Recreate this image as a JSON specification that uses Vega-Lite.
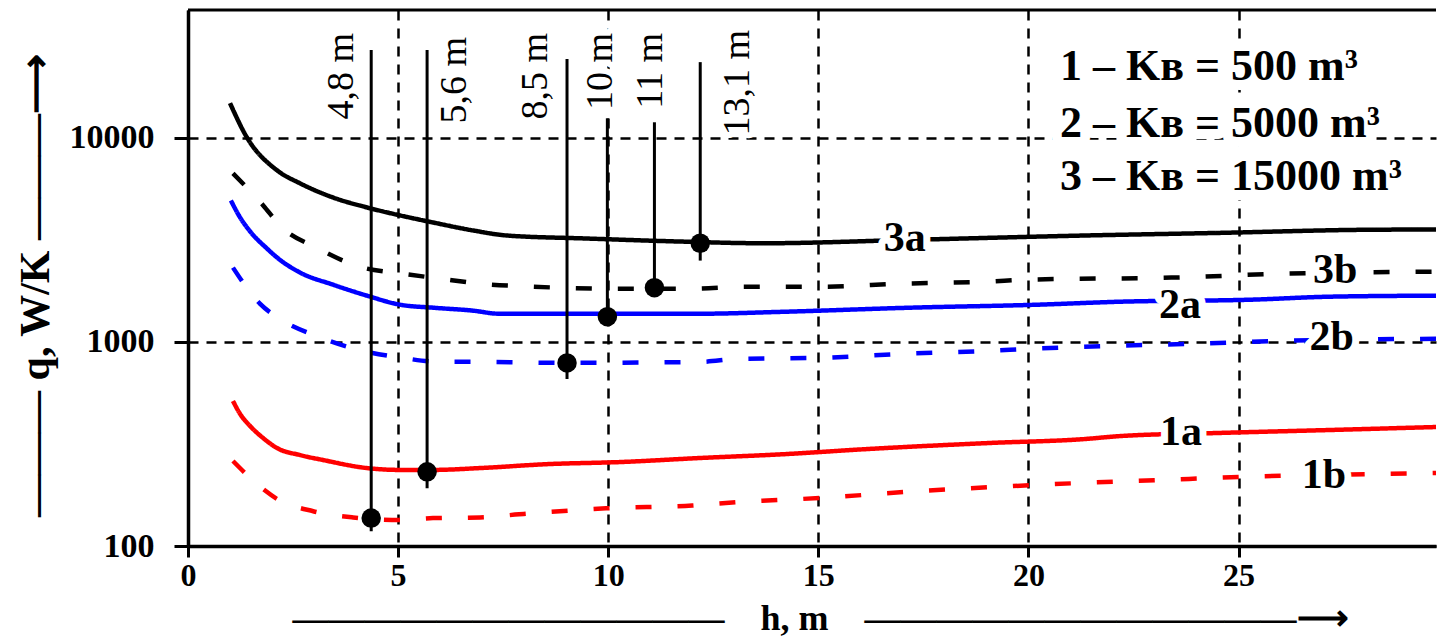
{
  "$schema": "https://vega.github.io/schema/vega-lite/v6.json",
  "width": 1248,
  "height": 536,
  "autosize": {"type": "none"},
  "padding": {"left": 188, "top": 10, "right": 3, "bottom": 92},
  "background": "white",
  "config": {"view": {"stroke": null}, "font": "Liberation Serif"},
  "datasets": {
    "curves": [
      {"s": "3a", "h": 1.0, "q": 14810}, {"s": "3a", "h": 1.4, "q": 10080}, {"s": "3a", "h": 2.12, "q": 6940}, {"s": "3a", "h": 2.67, "q": 5990}, {"s": "3a", "h": 3.45, "q": 5110}, {"s": "3a", "h": 4.26, "q": 4566}, {"s": "3a", "h": 5.05, "q": 4172}, {"s": "3a", "h": 5.83, "q": 3854}, {"s": "3a", "h": 6.79, "q": 3520}, {"s": "3a", "h": 7.6, "q": 3325}, {"s": "3a", "h": 9.5, "q": 3215}, {"s": "3a", "h": 11.7, "q": 3108}, {"s": "3a", "h": 13.7, "q": 3048}, {"s": "3a", "h": 17.2, "q": 3168}, {"s": "3a", "h": 21.3, "q": 3325}, {"s": "3a", "h": 24.6, "q": 3428}, {"s": "3a", "h": 28.0, "q": 3548}, {"s": "3a", "h": 29.7, "q": 3560},
      {"s": "3b", "h": 1.07, "q": 6707}, {"s": "3b", "h": 1.79, "q": 4670}, {"s": "3b", "h": 2.19, "q": 3724}, {"s": "3b", "h": 3.1, "q": 2871}, {"s": "3b", "h": 4.07, "q": 2342}, {"s": "3b", "h": 5.1, "q": 2163}, {"s": "3b", "h": 6.0, "q": 2045}, {"s": "3b", "h": 6.95, "q": 1932}, {"s": "3b", "h": 8.21, "q": 1867}, {"s": "3b", "h": 10.05, "q": 1826}, {"s": "3b", "h": 12.0, "q": 1826}, {"s": "3b", "h": 13.3, "q": 1867}, {"s": "3b", "h": 15.1, "q": 1867}, {"s": "3b", "h": 17.0, "q": 1932}, {"s": "3b", "h": 19.0, "q": 1976}, {"s": "3b", "h": 20.0, "q": 2021}, {"s": "3b", "h": 23.4, "q": 2068}, {"s": "3b", "h": 26.1, "q": 2163}, {"s": "3b", "h": 29.7, "q": 2213},
      {"s": "2a", "h": 1.02, "q": 4942}, {"s": "2a", "h": 1.24, "q": 4077}, {"s": "2a", "h": 1.48, "q": 3479}, {"s": "2a", "h": 1.88, "q": 2871}, {"s": "2a", "h": 2.12, "q": 2593}, {"s": "2a", "h": 2.67, "q": 2188}, {"s": "2a", "h": 3.45, "q": 1910}, {"s": "2a", "h": 4.26, "q": 1687}, {"s": "2a", "h": 5.05, "q": 1523}, {"s": "2a", "h": 5.83, "q": 1473}, {"s": "2a", "h": 6.79, "q": 1424}, {"s": "2a", "h": 7.4, "q": 1376}, {"s": "2a", "h": 12.2, "q": 1376}, {"s": "2a", "h": 14.2, "q": 1407}, {"s": "2a", "h": 17.2, "q": 1473}, {"s": "2a", "h": 20.2, "q": 1523}, {"s": "2a", "h": 22.2, "q": 1576}, {"s": "2a", "h": 25.3, "q": 1612}, {"s": "2a", "h": 27.2, "q": 1668}, {"s": "2a", "h": 29.7, "q": 1687},
      {"s": "2b", "h": 1.07, "q": 2315}, {"s": "2b", "h": 1.71, "q": 1541}, {"s": "2b", "h": 2.14, "q": 1315}, {"s": "2b", "h": 3.1, "q": 1061}, {"s": "2b", "h": 4.05, "q": 916}, {"s": "2b", "h": 5.1, "q": 836}, {"s": "2b", "h": 6.0, "q": 799}, {"s": "2b", "h": 6.88, "q": 799}, {"s": "2b", "h": 9.0, "q": 790}, {"s": "2b", "h": 12.2, "q": 799}, {"s": "2b", "h": 13.1, "q": 827}, {"s": "2b", "h": 15.0, "q": 836}, {"s": "2b", "h": 17.0, "q": 875}, {"s": "2b", "h": 19.05, "q": 905}, {"s": "2b", "h": 20.05, "q": 926}, {"s": "2b", "h": 22.07, "q": 958}, {"s": "2b", "h": 23.98, "q": 980}, {"s": "2b", "h": 26.1, "q": 1014}, {"s": "2b", "h": 29.7, "q": 1037},
      {"s": "1a", "h": 1.07, "q": 514}, {"s": "1a", "h": 1.24, "q": 444}, {"s": "1a", "h": 1.48, "q": 387}, {"s": "1a", "h": 1.79, "q": 338}, {"s": "1a", "h": 2.12, "q": 302}, {"s": "1a", "h": 2.67, "q": 279}, {"s": "1a", "h": 3.21, "q": 264}, {"s": "1a", "h": 4.26, "q": 241}, {"s": "1a", "h": 5.05, "q": 236}, {"s": "1a", "h": 5.83, "q": 236}, {"s": "1a", "h": 6.95, "q": 241}, {"s": "1a", "h": 8.57, "q": 252}, {"s": "1a", "h": 10.3, "q": 258}, {"s": "1a", "h": 12.19, "q": 270}, {"s": "1a", "h": 14.2, "q": 282}, {"s": "1a", "h": 16.2, "q": 299}, {"s": "1a", "h": 19.1, "q": 320}, {"s": "1a", "h": 21.3, "q": 334}, {"s": "1a", "h": 22.2, "q": 346}, {"s": "1a", "h": 24.5, "q": 358}, {"s": "1a", "h": 27.1, "q": 370}, {"s": "1a", "h": 29.7, "q": 383},
      {"s": "1b", "h": 1.07, "q": 261}, {"s": "1b", "h": 1.76, "q": 192}, {"s": "1b", "h": 2.12, "q": 170}, {"s": "1b", "h": 2.98, "q": 148}, {"s": "1b", "h": 3.93, "q": 138}, {"s": "1b", "h": 5.05, "q": 134}, {"s": "1b", "h": 5.83, "q": 137}, {"s": "1b", "h": 6.95, "q": 138}, {"s": "1b", "h": 7.88, "q": 143}, {"s": "1b", "h": 9.95, "q": 153}, {"s": "1b", "h": 12.0, "q": 158}, {"s": "1b", "h": 13.05, "q": 164}, {"s": "1b", "h": 15.05, "q": 172}, {"s": "1b", "h": 17.07, "q": 184}, {"s": "1b", "h": 19.05, "q": 194}, {"s": "1b", "h": 21.07, "q": 203}, {"s": "1b", "h": 23.0, "q": 210}, {"s": "1b", "h": 25.05, "q": 218}, {"s": "1b", "h": 28.07, "q": 225}, {"s": "1b", "h": 29.7, "q": 228}
    ],
    "markers": [
      {"h": 4.36, "q": 27000, "q2": 118}, {"h": 5.69, "q": 27000, "q2": 192}, {"h": 9.02, "q": 24400, "q2": 659}, {"h": 9.98, "q": 12490, "q2": 1202}, {"h": 11.1, "q": 11940, "q2": 1846}, {"h": 12.19, "q": 23540, "q2": 2506}
    ],
    "dots": [
      {"h": 4.36, "q": 137}, {"h": 5.69, "q": 231}, {"h": 9.02, "q": 790}, {"h": 9.98, "q": 1330}, {"h": 11.1, "q": 1846}, {"h": 12.19, "q": 3048}
    ],
    "markerLabels": [
      {"h": 3.93, "q": 32700, "t": "4,8 m"}, {"h": 6.62, "q": 31240, "t": "5,6 m"}, {"h": 8.54, "q": 32700, "t": "8,5 m"}, {"h": 10.09, "q": 32700, "t": "10 m"}, {"h": 11.28, "q": 32700, "t": "11 m"}, {"h": 13.35, "q": 33820, "t": "13,1 m"}
    ],
    "curveLabels": [
      {"h": 17.06, "q": 2805, "t": "3a"}, {"h": 27.3, "q": 1954, "t": "3b"}, {"h": 23.61, "q": 1315, "t": "2a"}, {"h": 27.22, "q": 916, "t": "2b"}, {"h": 23.63, "q": 312.5, "t": "1a"}, {"h": 27.03, "q": 192, "t": "1b"}
    ],
    "legendText": [
      {"h": 20.75, "q": 19210, "t": "1 – Kв = 500 m³"}, {"h": 20.75, "q": 10080, "t": "2 – Kв = 5000 m³"}, {"h": 20.75, "q": 5534, "t": "3 – Kв = 15000 m³"}
    ],
    "frame": [{"h": 0, "h2": 29.7, "q": 42400}]
  },
  "encoding": {
    "x": {
      "field": "h", "type": "quantitative",
      "scale": {"domain": [0, 29.7], "nice": false, "zero": false},
      "axis": {
        "values": [0, 5, 10, 15, 20, 25], "format": "d", "labelFlush": false,
        "title": "————————————\u2003h, m\u2003————————————⟶",
        "titleFont": "Liberation Serif", "titleFontWeight": "bold", "titleFontSize": 36, "titleColor": "black",
        "titleBaseline": "alphabetic", "titleAlign": "center", "titleX": 632, "titleY": 83,
        "grid": true, "gridColor": "black", "gridDash": [10, 8], "gridWidth": 2.5, "gridOpacity": 1,
        "domainColor": "black", "domainWidth": 3.5, "tickColor": "black", "tickWidth": 3, "tickSize": 11,
        "labelFont": "Liberation Serif", "labelFontWeight": "bold", "labelFontSize": 32, "labelColor": "black", "labelPadding": 3
      }
    },
    "y": {
      "field": "q", "type": "quantitative",
      "scale": {"type": "log", "domain": [100, 42400], "nice": false},
      "axis": {
        "values": [100, 1000, 10000], "format": "d",
        "title": "——— q, W/K ———⟶",
        "titleFont": "Liberation Serif", "titleFontWeight": "bold", "titleFontSize": 42, "titleColor": "black",
        "titleAngle": 270, "titleBaseline": "alphabetic", "titleAlign": "center", "titleX": -140, "titleY": 275,
        "grid": true, "gridColor": "black", "gridDash": [10, 8], "gridWidth": 2.5, "gridOpacity": 1,
        "domainColor": "black", "domainWidth": 3.5, "tickColor": "black", "tickWidth": 3, "tickSize": 14,
        "labelFont": "Liberation Serif", "labelFontWeight": "bold", "labelFontSize": 34, "labelColor": "black", "labelPadding": 20
      }
    }
  },
  "layer": [
    {
      "data": {"name": "frame"},
      "mark": {"type": "rule", "color": "black", "strokeWidth": 3},
      "encoding": {"x2": {"field": "h2"}}
    },
    {
      "data": {"name": "curves"},
      "mark": {"type": "line", "strokeWidth": 4.5, "strokeCap": "butt", "interpolate": "monotone"},
      "encoding": {
        "detail": {"field": "s"},
        "color": {"field": "s", "type": "nominal", "legend": null,
          "scale": {"domain": ["1a", "1b", "2a", "2b", "3a", "3b"], "range": ["#ff0000", "#ff0000", "#0000ff", "#0000ff", "#000000", "#000000"]}},
        "strokeDash": {"field": "s", "type": "nominal", "legend": null,
          "scale": {"domain": ["1a", "1b", "2a", "2b", "3a", "3b"], "range": [[1, 0], [16, 26], [1, 0], [16, 26], [1, 0], [16, 26]]}}
      }
    },
    {
      "data": {"name": "markers"},
      "mark": {"type": "rule", "color": "black", "strokeWidth": 3},
      "encoding": {"y2": {"field": "q2"}}
    },
    {
      "data": {"name": "dots"},
      "mark": {"type": "point", "shape": "circle", "filled": true, "size": 380, "color": "black", "opacity": 1}
    },
    {
      "data": {"name": "markerLabels"},
      "mark": {"type": "text", "angle": 270, "align": "right", "baseline": "alphabetic", "font": "Liberation Serif", "fontSize": 38, "fill": "white", "stroke": "white", "strokeWidth": 12, "strokeJoin": "round"},
      "encoding": {"text": {"field": "t"}}
    },
    {
      "data": {"name": "markerLabels"},
      "mark": {"type": "text", "angle": 270, "align": "right", "baseline": "alphabetic", "font": "Liberation Serif", "fontSize": 38, "color": "black"},
      "encoding": {"text": {"field": "t"}}
    },
    {
      "data": {"name": "curveLabels"},
      "mark": {"type": "text", "align": "center", "baseline": "alphabetic", "font": "Liberation Serif", "fontWeight": "bold", "fontSize": 42, "fill": "white", "stroke": "white", "strokeWidth": 14, "strokeJoin": "round"},
      "encoding": {"text": {"field": "t"}}
    },
    {
      "data": {"name": "curveLabels"},
      "mark": {"type": "text", "align": "center", "baseline": "alphabetic", "font": "Liberation Serif", "fontWeight": "bold", "fontSize": 42, "color": "black"},
      "encoding": {"text": {"field": "t"}}
    },
    {
      "data": {"name": "legendText"},
      "mark": {"type": "text", "align": "left", "baseline": "alphabetic", "font": "Liberation Serif", "fontWeight": "bold", "fontSize": 44, "fill": "white", "stroke": "white", "strokeWidth": 20, "strokeJoin": "round"},
      "encoding": {"text": {"field": "t"}}
    },
    {
      "data": {"name": "legendText"},
      "mark": {"type": "text", "align": "left", "baseline": "alphabetic", "font": "Liberation Serif", "fontWeight": "bold", "fontSize": 44, "color": "black"},
      "encoding": {"text": {"field": "t"}}
    }
  ]
}
